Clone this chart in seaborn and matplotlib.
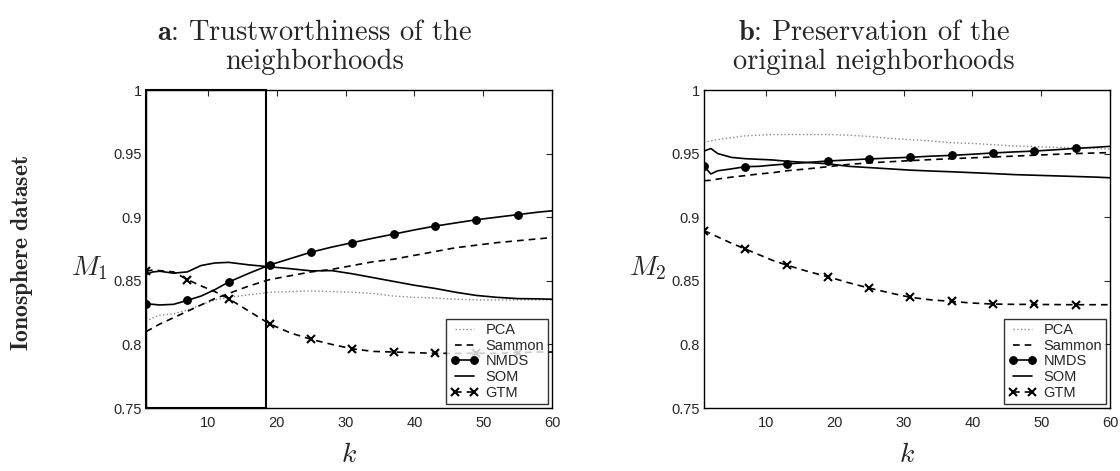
import matplotlib
matplotlib.use("Agg")
import matplotlib.pyplot as plt
import seaborn as sns
from matplotlib.patches import Rectangle

# neighbourhood size k, shared by every curve
K = [1, 2, 3, 5, 7, 9, 11, 13, 16, 19, 22, 25, 28, 31, 34, 37, 40, 43, 46, 49, 52, 55, 58, 60]

# panel a: trustworthiness M1
PCA_A = [0.818, 0.821, 0.823, 0.824, 0.827, 0.831, 0.835, 0.837, 0.839, 0.841, 0.8415, 0.842,
         0.8415, 0.841, 0.840, 0.838, 0.837, 0.8365, 0.8355, 0.835, 0.835, 0.835, 0.835, 0.835]
SAMMON_A = [0.810, 0.813, 0.816, 0.821, 0.826, 0.831, 0.836, 0.840, 0.846, 0.851, 0.854, 0.857,
            0.859, 0.862, 0.865, 0.867, 0.870, 0.873, 0.876, 0.878, 0.880, 0.8815, 0.883, 0.884]
NMDS_A = [0.832, 0.8315, 0.831, 0.8315, 0.8346, 0.838, 0.843, 0.849, 0.856, 0.8625, 0.8675, 0.8725,
          0.8765, 0.880, 0.8835, 0.8867, 0.890, 0.893, 0.8955, 0.898, 0.900, 0.902, 0.904, 0.905]
SOM_A = [0.855, 0.857, 0.8575, 0.856, 0.857, 0.862, 0.864, 0.8645, 0.8625, 0.861, 0.8595, 0.8578,
         0.858, 0.8555, 0.8525, 0.8495, 0.8465, 0.844, 0.841, 0.8385, 0.837, 0.836, 0.8358, 0.8355]
GTM_A = [0.8575, 0.8585, 0.858, 0.857, 0.851, 0.846, 0.8415, 0.836, 0.826, 0.816, 0.809, 0.804,
         0.800, 0.7965, 0.7945, 0.794, 0.7935, 0.793, 0.793, 0.793, 0.793, 0.7935, 0.794, 0.794]

# panel b: preservation M2
PCA_B = [0.959, 0.960, 0.961, 0.9625, 0.964, 0.9645, 0.965, 0.965, 0.965, 0.965, 0.9645, 0.9635,
         0.962, 0.961, 0.960, 0.9585, 0.958, 0.957, 0.956, 0.9555, 0.955, 0.9545, 0.954, 0.9535]
SAMMON_B = [0.9287, 0.929, 0.930, 0.9315, 0.9327, 0.934, 0.935, 0.9365, 0.938, 0.9397, 0.9415, 0.9427,
            0.9436, 0.9445, 0.9453, 0.946, 0.9467, 0.9473, 0.948, 0.9487, 0.9494, 0.950, 0.9505, 0.9508]
NMDS_B = [0.940, 0.934, 0.9365, 0.938, 0.9397, 0.940, 0.941, 0.9418, 0.943, 0.9442, 0.945, 0.9458,
          0.9465, 0.9471, 0.948, 0.9486, 0.9495, 0.9505, 0.9513, 0.952, 0.953, 0.9541, 0.955, 0.9557]
SOM_B = [0.952, 0.954, 0.950, 0.947, 0.946, 0.9455, 0.945, 0.944, 0.943, 0.942, 0.940, 0.939,
         0.938, 0.937, 0.9363, 0.9357, 0.935, 0.9343, 0.9335, 0.933, 0.9325, 0.932, 0.9315, 0.931]
GTM_B = [0.8894, 0.887, 0.8845, 0.8795, 0.875, 0.8705, 0.866, 0.8624, 0.8575, 0.8532, 0.8485, 0.8443,
         0.8405, 0.837, 0.835, 0.8338, 0.8325, 0.8317, 0.8315, 0.8314, 0.8313, 0.8312, 0.8312, 0.8312]

METHODS = ["PCA", "Sammon", "NMDS", "SOM", "GTM"]
YTICKS = [0.75, 0.8, 0.85, 0.9, 0.95, 1.0]
YTICKLABELS = ["0.75", "0.8", "0.85", "0.9", "0.95", "1"]
XTICKS = [10, 20, 30, 40, 50, 60]
ZOOM_K = 18.4  # right edge of the highlighted box in panel a

sns.set_theme(style="white")
plt.rcParams.update({
    "font.family": ["Liberation Sans", "DejaVu Sans"],
    "mathtext.fontset": "cm",
    "font.size": 10.5,
    "axes.linewidth": 1.0,
    "axes.edgecolor": "black",
})

marks = [i for i, k in enumerate(K) if (k - 1) % 6 == 0]
dash = (0, (4, 3))
styles = {
    "PCA": dict(color="#8a8a8a", linestyle=":", lw=1.0),
    "Sammon": dict(color="black", linestyle=dash, lw=1.2),
    "NMDS": dict(color="black", linestyle="-", lw=1.2, marker="o", markersize=5.5,
                 markeredgecolor="black", markeredgewidth=0.8, markevery=marks),
    "SOM": dict(color="black", linestyle="-", lw=1.2),
    "GTM": dict(color="black", linestyle=dash, lw=1.2, marker="x", markersize=6,
                markeredgecolor="black", markeredgewidth=1.5, markevery=marks),
}

fig = plt.figure(figsize=(11.2, 4.71), dpi=100)
ax_a = fig.add_axes([146 / 1120, 63 / 471, 406 / 1120, 318 / 471])
ax_b = fig.add_axes([704 / 1120, 63 / 471, 406 / 1120, 318 / 471])

panels = [
    (ax_a, [PCA_A, SAMMON_A, NMDS_A, SOM_A, GTM_A], r"$M_1$"),
    (ax_b, [PCA_B, SAMMON_B, NMDS_B, SOM_B, GTM_B], r"$M_2$"),
]

for ax, series, ylab in panels:
    for name, vals in zip(METHODS, series):
        sns.lineplot(x=K, y=vals, ax=ax, label=name, **styles[name])
    ax.set_xlim(1, 60)
    ax.set_ylim(0.75, 1.0)
    ax.set_xticks(XTICKS)
    ax.set_yticks(YTICKS)
    ax.set_yticklabels(YTICKLABELS)
    ax.tick_params(direction="in", top=True, right=True, length=4, width=0.8,
                   labelsize=10.5, pad=3)
    ax.tick_params(axis="x", pad=6)
    for sp in ax.spines.values():
        sp.set_visible(True)
        sp.set_color("black")
    ax.set_ylabel(ylab, rotation=0, fontsize=20, ha="right", va="center")
    ax.yaxis.set_label_coords(-0.093, 0.44)
    ax.set_xlabel(r"$k$", fontsize=20, va="center")
    ax.xaxis.set_label_coords(0.5, -0.148)
    leg = ax.legend(loc="lower right", fontsize=10.5, numpoints=2, handlelength=1.9,
                    handletextpad=0.5, labelspacing=0.12, borderpad=0.3,
                    borderaxespad=0.25, frameon=True, fancybox=False)
    leg.get_frame().set_edgecolor("black")
    leg.get_frame().set_linewidth(1.0)
    leg.set_zorder(5)

# highlighted zoom region in panel a
ax_a.add_patch(Rectangle((1, 0.75), ZOOM_K - 1, 0.25, fill=False, ec="black",
                         lw=1.5, clip_on=False, zorder=4))

title_kw = dict(family="cmr10", fontsize=20.5, ha="center", va="center")
fig.text(315 / 1120, 1 - 33 / 471, r"$\mathbf{a}$: Trustworthiness of the", **title_kw)
fig.text(315 / 1120, 1 - 62 / 471, "neighborhoods", **title_kw)
fig.text(874 / 1120, 1 - 33 / 471, r"$\mathbf{b}$: Preservation of the", **title_kw)
fig.text(874 / 1120, 1 - 62 / 471, "original neighborhoods", **title_kw)

fig.text(22 / 1120, 1 - 253 / 471, r"$\mathbf{Ionosphere\ dataset}$", fontsize=17,
         rotation=90, ha="center", va="center")

fig.savefig("out.png", dpi=100)
